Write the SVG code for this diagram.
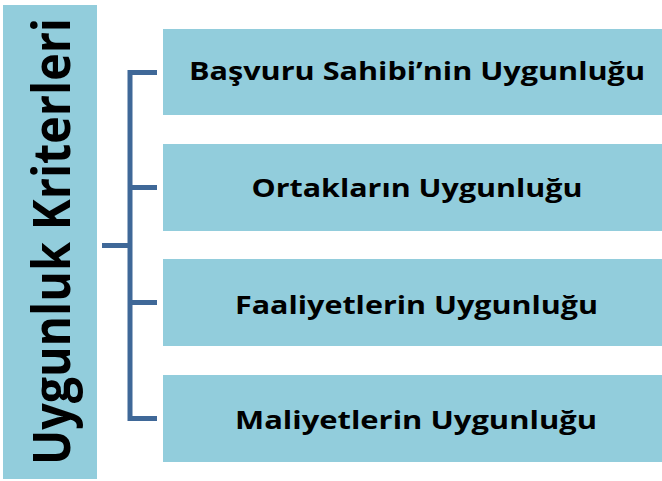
<svg xmlns="http://www.w3.org/2000/svg" width="662" height="481" viewBox="0 0 662 481">
<style>
.box{fill:#92CDDC;}
.lbl{font-family:"Open Sans","Liberation Sans",sans-serif;font-weight:bold;font-size:25px;fill:#000;text-anchor:middle;}
.title{font-family:"Open Sans","Liberation Sans",sans-serif;font-weight:bold;font-size:52px;fill:#000;text-anchor:middle;}
.con{fill:none;stroke:#3F6898;stroke-width:5;stroke-linejoin:miter;stroke-linecap:butt;}
</style>
<rect width="662" height="481" fill="#FFFFFF"/>
<g id="root">
<rect class="box" x="3" y="5" width="94" height="474"/>
<text class="title" transform="translate(70,241.5) rotate(-90)" x="0" y="0" textLength="447" lengthAdjust="spacingAndGlyphs">Uygunluk Kriterleri</text>
</g>
<g id="connectors">
<path class="con" d="M157,72.5 H130 V418.5 H157"/>
<path class="con" d="M130,187.5 H157"/>
<path class="con" d="M130,302.5 H157"/>
<path class="con" d="M102,245.5 H130"/>
</g>
<g id="node1">
<rect class="box" x="163" y="29" width="499" height="86"/>
<text class="lbl" x="417" y="79.5" textLength="456" lengthAdjust="spacingAndGlyphs">Başvuru Sahibi’nin Uygunluğu</text>
</g>
<g id="node2">
<rect class="box" x="163" y="144" width="499" height="87"/>
<text class="lbl" x="417" y="197" textLength="331" lengthAdjust="spacingAndGlyphs">Ortakların Uygunluğu</text>
</g>
<g id="node3">
<rect class="box" x="163" y="259" width="499" height="87"/>
<text class="lbl" x="416.5" y="313.5" textLength="363" lengthAdjust="spacingAndGlyphs">Faaliyetlerin Uygunluğu</text>
</g>
<g id="node4">
<rect class="box" x="163" y="375" width="499" height="87"/>
<text class="lbl" x="416" y="429" textLength="362" lengthAdjust="spacingAndGlyphs">Maliyetlerin Uygunluğu</text>
</g>
</svg>
